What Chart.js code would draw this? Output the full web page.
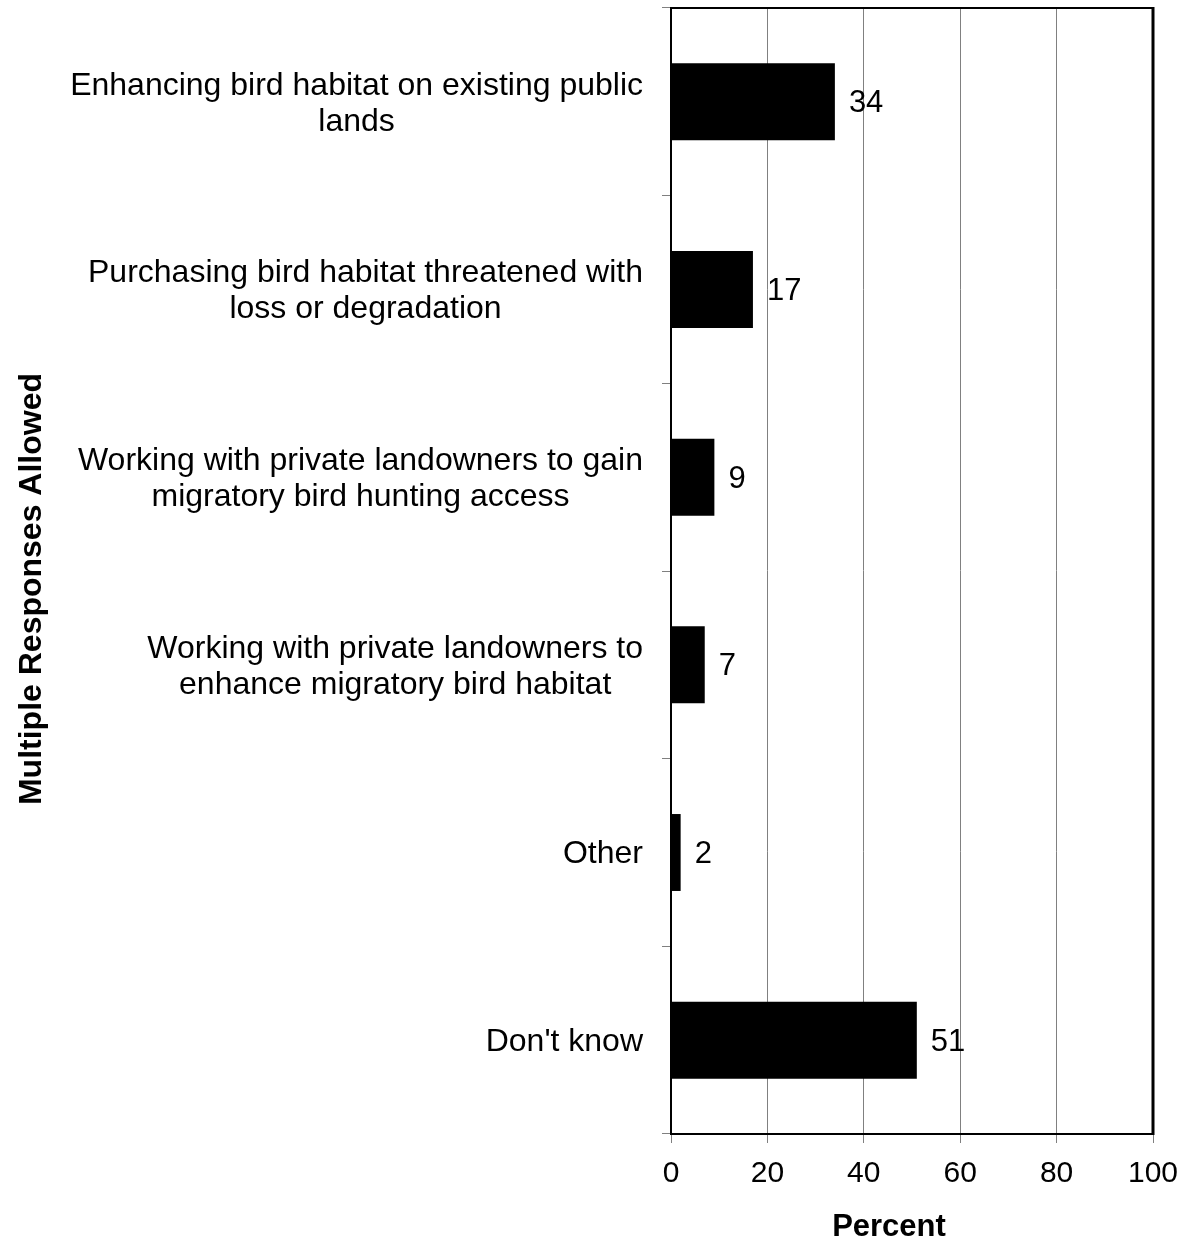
<!DOCTYPE html>
<html>
<head>
<meta charset="utf-8">
<title>Multiple Responses Allowed</title>
<script src="https://cdn.jsdelivr.net/npm/chart.js@4.4.1/dist/chart.umd.min.js"></script>
<style>
  html, body { margin: 0; padding: 0; background: #ffffff; }
  #wrap { width: 1184px; height: 1241px; }
</style>
</head>
<body>
<div id="wrap"><canvas id="chart" width="1184" height="1241"></canvas></div>
<script>
// Survey categories (each inner array is one label, one entry per line)
const categories = [
  ['Enhancing bird habitat on existing public', 'lands'],
  ['Purchasing bird habitat threatened with', 'loss or degradation'],
  ['Working with private landowners to gain', 'migratory bird hunting access'],
  ['Working with private landowners to', 'enhance migratory bird habitat'],
  ['Other'],
  ["Don't know"]
];
// Percent of respondents choosing each option
const percentValues = [34, 17, 9, 7, 2, 51];
// Percent axis ticks
const percentTicks = [0, 20, 40, 60, 80, 100];
const xTitleText = 'Percent';
const yTitleText = 'Multiple Responses Allowed';

const FONT = '"Liberation Sans", Arial, Helvetica, sans-serif';

// Draws the outer frame, wrapped category labels, value labels and axis titles
const annotate = {
  id: 'annotate',
  afterDraw(chart) {
    const ctx = chart.ctx;
    const area = chart.chartArea;
    const yScale = chart.scales.y;

    ctx.save();
    // top and right edges of the plot frame
    ctx.strokeStyle = '#000';
    ctx.lineWidth = 2;
    ctx.beginPath();
    ctx.moveTo(area.left, area.top);
    ctx.lineTo(area.right, area.top);
    ctx.stroke();
    ctx.lineWidth = 3;
    ctx.beginPath();
    ctx.moveTo(area.right, area.top - 1);
    ctx.lineTo(area.right, area.bottom + 1);
    ctx.stroke();

    // category labels: block right-aligned, lines centred within the block
    ctx.fillStyle = '#000';
    ctx.font = '32px ' + FONT;
    ctx.textBaseline = 'middle';
    ctx.textAlign = 'center';
    const lineH = 36;
    const labelRight = area.left - 28;
    categories.forEach((lines, i) => {
      const yc = yScale.getPixelForValue(i) + 2;
      const w = Math.max(...lines.map(l => ctx.measureText(l).width));
      const xc = labelRight - w / 2;
      lines.forEach((line, j) => {
        ctx.fillText(line, xc, yc + (j - (lines.length - 1) / 2) * lineH);
      });
    });

    // value labels beside each bar
    ctx.font = '31px ' + FONT;
    ctx.textAlign = 'left';
    const meta = chart.getDatasetMeta(0);
    meta.data.forEach((bar, i) => {
      ctx.fillText(String(percentValues[i]), bar.x + 14, bar.y + 2);
    });

    // axis titles
    ctx.font = 'bold 31px ' + FONT;
    ctx.textAlign = 'center';
    ctx.fillText(xTitleText, 889, 1227);
    ctx.font = 'bold 32px ' + FONT;
    ctx.translate(32, 589);
    ctx.rotate(-Math.PI / 2);
    ctx.fillText(yTitleText, 0, 0);
    ctx.restore();
  }
};

new Chart(document.getElementById('chart'), {
  type: 'bar',
  data: {
    labels: categories,
    datasets: [{
      data: percentValues,
      backgroundColor: '#000000',
      borderWidth: 0,
      barPercentage: 0.41,
      categoryPercentage: 1.0
    }]
  },
  options: {
    indexAxis: 'y',
    responsive: false,
    animation: false,
    devicePixelRatio: 1,
    layout: { padding: { top: 8, right: 31, bottom: 0, left: 0 } },
    plugins: {
      legend: { display: false },
      tooltip: { enabled: false },
      title: { display: false }
    },
    scales: {
      x: {
        type: 'linear',
        min: percentTicks[0],
        max: percentTicks[percentTicks.length - 1],
        afterBuildTicks(scale) {
          scale.ticks = percentTicks.map(v => ({ value: v }));
        },
        ticks: {
          color: '#000',
          font: { family: FONT, size: 30 },
          padding: 13,
          callback: v => String(v)
        },
        grid: {
          color: '#808080',
          lineWidth: 1,
          drawTicks: true,
          tickLength: 9,
          tickColor: '#808080'
        },
        border: { display: true, color: '#000', width: 2 },
        afterFit(scale) {
          scale.height = 107;
          // end labels may overhang; keep the plot edges fixed
          scale.paddingLeft = 0;
          scale.paddingRight = 0;
        }
      },
      y: {
        type: 'category',
        offset: true,
        ticks: { display: false },
        grid: {
          offset: true,
          drawOnChartArea: false,
          drawTicks: true,
          tickLength: 9,
          tickColor: '#808080',
          lineWidth: 1
        },
        border: { display: true, color: '#000', width: 2 },
        afterFit(scale) {
          scale.width = 671;
          scale.paddingTop = 0;
          scale.paddingBottom = 0;
        }
      }
    }
  },
  plugins: [annotate]
});
</script>
</body>
</html>
